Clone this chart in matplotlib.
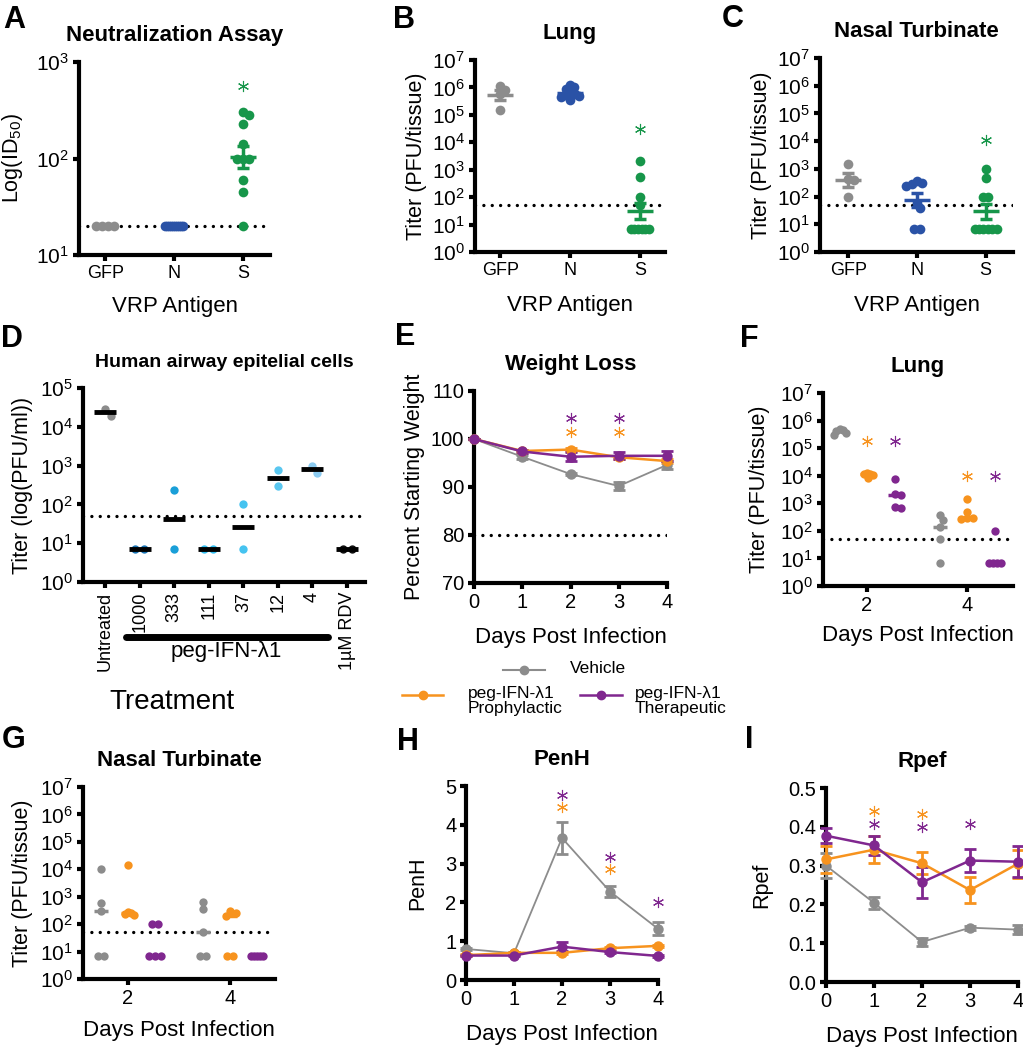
import numpy as np
import matplotlib
matplotlib.use('Agg')
import matplotlib.pyplot as plt
from matplotlib.lines import Line2D
from matplotlib.ticker import LogLocator, NullLocator, FormatStrFormatter

plt.rcParams['font.family'] = ['Liberation Sans', 'DejaVu Sans']
plt.rcParams['mathtext.fontset'] = 'custom'
plt.rcParams['mathtext.rm'] = 'Liberation Sans'
plt.rcParams['mathtext.it'] = 'Liberation Sans:italic'
plt.rcParams['mathtext.bf'] = 'Liberation Sans:bold'

GRAY = '#8c8c8c'
BLUE = '#2a52a6'
GREEN = '#17964a'
ORANGE = '#f7931e'
PURPLE = '#80278f'

# ---- A: neutralization assay ----
vrp_groups = ['GFP', 'N', 'S']
a_gfp = [20, 20, 20, 20]
a_n = [20, 20, 20, 20, 20, 20, 20, 20, 20, 20]
a_s = [300, 280, 230, 140, 100, 100, 100, 60, 45, 20]
a_lod = 20
a_star = 560

# ---- B: lung titer ----
b_gfp = [1.1e6, 8e5, 6e5, 1.5e5]
b_n = [1.2e6, 1.0e6, 9e5, 7e5, 6e5, 5e5, 4.5e5, 3.5e5, 5.5e5]
b_s = [2000, 550, 100, 50, 7, 7, 7, 7, 7, 7]
b_star = 3e4

# ---- C: nasal turbinate titer ----
c_gfp = [1500, 420, 400, 100]
c_n = [380, 300, 280, 250, 60, 40, 7, 7]
c_s = [1000, 450, 100, 100, 7, 7, 7, 7, 7, 7]
c_star = 1.1e4
titer_lod = 50

# ---- D: human airway epithelial cells ----
d_labels = ['Untreated', '1000', '333', '111', '37', '12', '4', '1µM RDV']
d_vals = [[1.9e4, 2.9e4], [7, 7], [240, 7], [7, 7], [100, 7], [780, 290], [1000, 640], [7, 7]]
d_colors = [GRAY, '#1b75b5', '#1a9fd8', '#35bff0', '#45c3f0', '#5ac7f0', '#8ccbf0', '#111111']

# ---- E: weight loss ----
days = [0, 1, 2, 3, 4]
e_veh = [100, 96.3, 92.7, 90.2, 94.6]
e_veh_err = [0, 0.4, 0.3, 0.8, 0.8]
e_pro = [100, 97.5, 97.8, 96.2, 95.4]
e_pro_err = [0, 0.3, 0.3, 0.3, 0.4]
e_ther = [100, 97.4, 96.3, 96.5, 96.5]
e_ther_err = [0, 0.3, 0.9, 0.7, 1.0]
e_stars_pro = ([2, 3], [101.5, 101.5])
e_stars_ther = ([2, 3], [104.3, 104.3])

# ---- F: lung titer, treatment ----
f_veh = [[4.5e5, 4.8e5, 4.2e5, 3.5e5, 3.0e5], [380, 250, 140, 50, 7]]
f_pro = [[1.2e4, 1.3e4, 1.2e4, 1.1e4, 8e3], [1400, 500, 290, 280, 300]]
f_ther = [[7500, 2100, 2000, 700, 750], [100, 7, 7, 7, 7]]
f_stars = [1.8e5, 9.5e3]

# ---- G: nasal turbinate, treatment ----
g_veh = [[1e4, 600, 300, 7, 7], [650, 350, 50, 7, 7]]
g_pro = [[14000, 280, 250, 220, 240], [300, 250, 200, 7, 7]]
g_ther = [[100, 100, 7, 7, 7], [7, 7, 7, 7, 7]]
tissue_days = [2, 4]

# ---- H: PenH ----
h_veh = [0.80, 0.69, 3.66, 2.28, 1.32]
h_veh_err = [0.03, 0.02, 0.42, 0.15, 0.17]
h_pro = [0.64, 0.70, 0.70, 0.82, 0.88]
h_pro_err = [0.02, 0.02, 0.02, 0.02, 0.02]
h_ther = [0.63, 0.63, 0.86, 0.72, 0.62]
h_ther_err = [0.02, 0.02, 0.11, 0.03, 0.02]
h_stars_pro = ([2, 3], [4.45, 2.86])
h_stars_ther = ([2, 3, 4], [4.78, 3.18, 2.0])

# ---- I: Rpef ----
i_veh = [0.30, 0.204, 0.103, 0.14, 0.135]
i_veh_err = [0.033, 0.015, 0.01, 0.005, 0.012]
i_pro = [0.316, 0.341, 0.306, 0.237, 0.305]
i_pro_err = [0.035, 0.035, 0.028, 0.033, 0.036]
i_ther = [0.377, 0.352, 0.257, 0.313, 0.31]
i_ther_err = [0.02, 0.024, 0.04, 0.029, 0.04]
i_stars_pro = ([1, 2], [0.44, 0.433])
i_stars_ther = ([1, 2, 3], [0.408, 0.40, 0.408])

W, H = 1023, 1050
fig = plt.figure(figsize=(W / 100, H / 100), dpi=100)


def new_ax(box):
    l, t, r, b = box
    ax = fig.add_axes([l / W, 1 - b / H, (r - l) / W, (b - t) / H])
    for s in ('top', 'right'):
        ax.spines[s].set_visible(False)
    for s in ('left', 'bottom'):
        ax.spines[s].set_linewidth(3)
    ax.tick_params(width=3, length=4, labelsize=14.5, pad=3)
    return ax


def set_labels(ax, box, title, xlabel, xl_top, ylabel, yl_right, tsize=16):
    l, t, r, b = box
    ax.set_title(title, fontsize=tsize, fontweight='bold', pad=15)
    ax.set_ylabel(ylabel, fontsize=15.5)
    ax.yaxis.set_label_coords((yl_right - l) / (r - l), 0.5)
    if xlabel:
        ax.set_xlabel(xlabel, fontsize=16)
        ax.xaxis.set_label_coords(0.5, -(xl_top - b) / (b - t))


def log_y(ax, lo, hi):
    ax.set_yscale('log')
    ax.set_ylim(lo, hi)
    ax.yaxis.set_major_locator(LogLocator(base=10, numticks=20))
    ax.yaxis.set_minor_locator(NullLocator())
    ax.tick_params(axis='y', labelsize=15)


def lod_line(ax, y):
    ax.axhline(y, color='k', lw=2.4, linestyle=(0, (0.01, 2.5)),
               dash_capstyle='round', zorder=2)


def swarm(ax, vals, diam, maxhalf):
    vals = np.asarray(vals, float)
    x0, x1 = ax.get_xlim()
    ypx = ax.transData.transform(np.column_stack([np.full(len(vals), x0), vals]))[:, 1]
    steps = [0.0]
    for k in range(1, 200):
        steps += [k * 0.5, -k * 0.5]
    offs = np.zeros(len(vals))
    placed = []
    for i in np.argsort(-vals, kind='stable'):
        for c in steps:
            if all((c - px) ** 2 + (ypx[i] - py) ** 2 >= diam ** 2 for px, py in placed):
                break
        offs[i] = c
        placed.append((c, ypx[i]))
    for v in np.unique(vals):
        idx = np.where(vals == v)[0]
        if len(idx) > 1:
            offs[idx] -= offs[idx].mean()
    m = np.abs(offs).max()
    if m > maxhalf:
        offs *= maxhalf / m
    return offs / (ax.bbox.width / (x1 - x0))


def dots(ax, x0, vals, color, ms, diam, maxhalf, stat='gmean', line_color=None,
         half_px=13, lw=2.5, err=True):
    vals = np.asarray(vals, float)
    lc = line_color or color
    offs = swarm(ax, vals, diam, maxhalf)
    ax.plot(x0 + offs, vals, 'o', ms=ms, color=color, mec='none', zorder=3, clip_on=False)
    logs = np.log10(vals)
    m = logs.mean() if stat == 'gmean' else np.median(logs)
    hw = half_px / (ax.bbox.width / np.ptp(ax.get_xlim()))
    ax.plot([x0 - hw, x0 + hw], [10 ** m] * 2, color=lc, lw=lw, solid_capstyle='butt', zorder=4)
    if err:
        se = logs.std(ddof=1) / np.sqrt(len(logs))
        if se > 0:
            ax.errorbar(x0, 10 ** m, yerr=[[10 ** m - 10 ** (m - se)], [10 ** (m + se) - 10 ** m]],
                        fmt='none', ecolor=lc, elinewidth=2.5, capsize=4, capthick=2.5, zorder=4)


def stars(ax, xs, ys, color):
    ax.plot(xs, ys, ls='none', marker=(6, 2, 0), ms=8, mew=0.8, color=color, clip_on=False)


def lines(ax, x, series):
    for vals, errs, c, lw in series:
        ax.errorbar(x, vals, yerr=errs, color=c, lw=lw, marker='o', ms=6.5, mec=c,
                    elinewidth=2, capsize=4, capthick=2, clip_on=False, zorder=3)


# ---------------- A ----------------
boxA = (79, 62, 270, 255)
ax = new_ax(boxA)
ax.set_xlim(-0.38, 2.39)
log_y(ax, 10, 1000)
ax.set_xticks(range(3), vrp_groups, fontsize=13)
lod_line(ax, a_lod)
for i, (v, c) in enumerate(zip([a_gfp, a_n, a_s], [GRAY, BLUE, GREEN])):
    dots(ax, i, v, c, 7, 6, 9)
stars(ax, [2], [a_star], GREEN)
set_labels(ax, boxA, 'Neutralization Assay', 'VRP Antigen', 296, 'Log(ID$_{50}$)', 25)

# ---------------- B ----------------
boxB = (475, 60, 665, 252)
ax = new_ax(boxB)
ax.set_xlim(-0.36, 2.36)
log_y(ax, 1, 1e7)
ax.set_xticks(range(3), vrp_groups, fontsize=13)
lod_line(ax, titer_lod)
for i, (v, c) in enumerate(zip([b_gfp, b_n, b_s], [GRAY, BLUE, GREEN])):
    dots(ax, i, v, c, 7, 6, 9)
stars(ax, [2], [b_star], GREEN)
set_labels(ax, boxB, 'Lung', 'VRP Antigen', 295, 'Titer (PFU/tissue)', 427)

# ---------------- C ----------------
boxC = (820, 58, 1013, 252)
ax = new_ax(boxC)
ax.set_xlim(-0.41, 2.4)
log_y(ax, 1, 1e7)
ax.set_xticks(range(3), vrp_groups, fontsize=13)
lod_line(ax, titer_lod)
for i, (v, c) in enumerate(zip([c_gfp, c_n, c_s], [GRAY, BLUE, GREEN])):
    dots(ax, i, v, c, 7, 6, 11)
stars(ax, [2], [c_star], GREEN)
set_labels(ax, boxC, 'Nasal Turbinate', 'VRP Antigen', 295, 'Titer (PFU/tissue)', 772)

# ---------------- D ----------------
boxD = (83, 388, 365, 582)
ax = new_ax(boxD)
ax.set_xlim(-0.64, 7.52)
log_y(ax, 1, 1e5)
ax.set_xticks(range(len(d_labels)), d_labels, rotation=90, fontsize=13)
lod_line(ax, titer_lod)
for i, (v, c) in enumerate(zip(d_vals, d_colors)):
    dots(ax, i, v, c, 6, 9, 8, line_color='k', half_px=11, lw=3.5, err=False)
set_labels(ax, boxD, 'Human airway epitelial cells', None, 0, 'Titer (log(PFU/ml))', 33, tsize=14)
ax.plot([0.6, 6.45], [-0.283, -0.283], color='k', lw=5, solid_capstyle='round',
        transform=ax.get_xaxis_transform(), clip_on=False)
ax.text(3.5, -0.36, 'peg-IFN-λ1', fontsize=16, ha='center', va='center',
        transform=ax.get_xaxis_transform())
fig.text(172 / W, 1 - 702 / H, 'Treatment', fontsize=20, ha='center', va='center')

# ---------------- E ----------------
boxE = (474, 391, 667, 583)
ax = new_ax(boxE)
ax.set_xlim(0, 4)
ax.set_ylim(70, 110)
ax.set_xticks(days)
ax.set_yticks(range(70, 111, 10))
lod_line(ax, 80)
lines(ax, days, [(e_veh, e_veh_err, GRAY, 1.3), (e_pro, e_pro_err, ORANGE, 1.8),
                 (e_ther, e_ther_err, PURPLE, 1.8)])
stars(ax, *e_stars_pro, ORANGE)
stars(ax, *e_stars_ther, PURPLE)
set_labels(ax, boxE, 'Weight Loss', 'Days Post Infection', 627, 'Percent Starting Weight', 425)

# ---------------- F ----------------
boxF = (823, 393, 1013, 586)
ax = new_ax(boxF)
ax.set_xlim(1.12, 4.92)
log_y(ax, 1, 1e7)
ax.set_xticks(tissue_days)
lod_line(ax, titer_lod)
for j, d in enumerate(tissue_days):
    for off, grp, c in zip([-0.55, 0, 0.55], [f_veh, f_pro, f_ther], [GRAY, ORANGE, PURPLE]):
        dots(ax, d + off, grp[j], c, 6, 6, 6, stat='median', half_px=7, err=False)
    stars(ax, [d], [f_stars[j]], ORANGE)
    stars(ax, [d + 0.55], [f_stars[j]], PURPLE)
set_labels(ax, boxF, 'Lung', 'Days Post Infection', 625, 'Titer (PFU/tissue)', 770)

# ---------------- G ----------------
boxG = (83, 787, 275, 979)
ax = new_ax(boxG)
ax.set_xlim(1.12, 4.88)
log_y(ax, 1, 1e7)
ax.set_xticks(tissue_days)
lod_line(ax, titer_lod)
for j, d in enumerate(tissue_days):
    for off, grp, c in zip([-0.53, 0, 0.53], [g_veh, g_pro, g_ther], [GRAY, ORANGE, PURPLE]):
        dots(ax, d + off, grp[j], c, 6, 6, 6, stat='median', half_px=7, err=False)
set_labels(ax, boxG, 'Nasal Turbinate', 'Days Post Infection', 1020, 'Titer (PFU/tissue)', 33)

# ---------------- H ----------------
boxH = (466, 786, 658, 980)
ax = new_ax(boxH)
ax.set_xlim(0, 4)
ax.set_ylim(0, 5)
ax.set_xticks(days)
ax.set_yticks(range(6))
lines(ax, days, [(h_veh, h_veh_err, GRAY, 1.3), (h_pro, h_pro_err, ORANGE, 1.8),
                 (h_ther, h_ther_err, PURPLE, 1.8)])
stars(ax, *h_stars_pro, ORANGE)
stars(ax, *h_stars_ther, PURPLE)
set_labels(ax, boxH, 'PenH', 'Days Post Infection', 1024, 'PenH', 428)

# ---------------- I ----------------
boxI = (826, 788, 1018, 982)
ax = new_ax(boxI)
ax.set_xlim(0, 4)
ax.set_ylim(0, 0.5)
ax.set_xticks(days)
ax.set_yticks(np.arange(0, 0.51, 0.1))
ax.yaxis.set_major_formatter(FormatStrFormatter('%.1f'))
lines(ax, days, [(i_veh, i_veh_err, GRAY, 1.3), (i_pro, i_pro_err, ORANGE, 1.8),
                 (i_ther, i_ther_err, PURPLE, 1.8)])
stars(ax, *i_stars_pro, ORANGE)
stars(ax, *i_stars_ther, PURPLE)
set_labels(ax, boxI, 'Rpef', 'Days Post Infection', 1026, 'Rpef', 772)

# ---------------- legend (under E) ----------------
def legend_entry(x0, x1, y, color, lw, label, tx):
    yy = 1 - y / H
    fig.add_artist(Line2D([x0 / W, (x0 + x1) / 2 / W, x1 / W], [yy] * 3, color=color, lw=lw,
                          marker='o', ms=6, markevery=[1], transform=fig.transFigure))
    fig.text(tx / W, 1 - (y - 9) / H, label, fontsize=12.5, ha='left', va='top', linespacing=1.0)


legend_entry(503, 545, 670, GRAY, 1.5, 'Vehicle', 570)
legend_entry(402, 443, 695, ORANGE, 1.8, 'peg-IFN-λ1\nProphylactic', 468)
legend_entry(580, 622, 695, PURPLE, 1.8, 'peg-IFN-λ1\nTherapeutic', 635)

# ---------------- panel letters ----------------
for letter, x, y in [('A', 3, 28), ('B', 393, 28), ('C', 722, 27), ('D', 1, 347), ('E', 395, 345),
                     ('F', 740, 347), ('G', 2, 748), ('H', 397, 750), ('I', 745, 748)]:
    fig.text(x / W, 1 - y / H, letter, fontsize=22, fontweight='bold', va='baseline')

fig.savefig('out.png', dpi=100)
